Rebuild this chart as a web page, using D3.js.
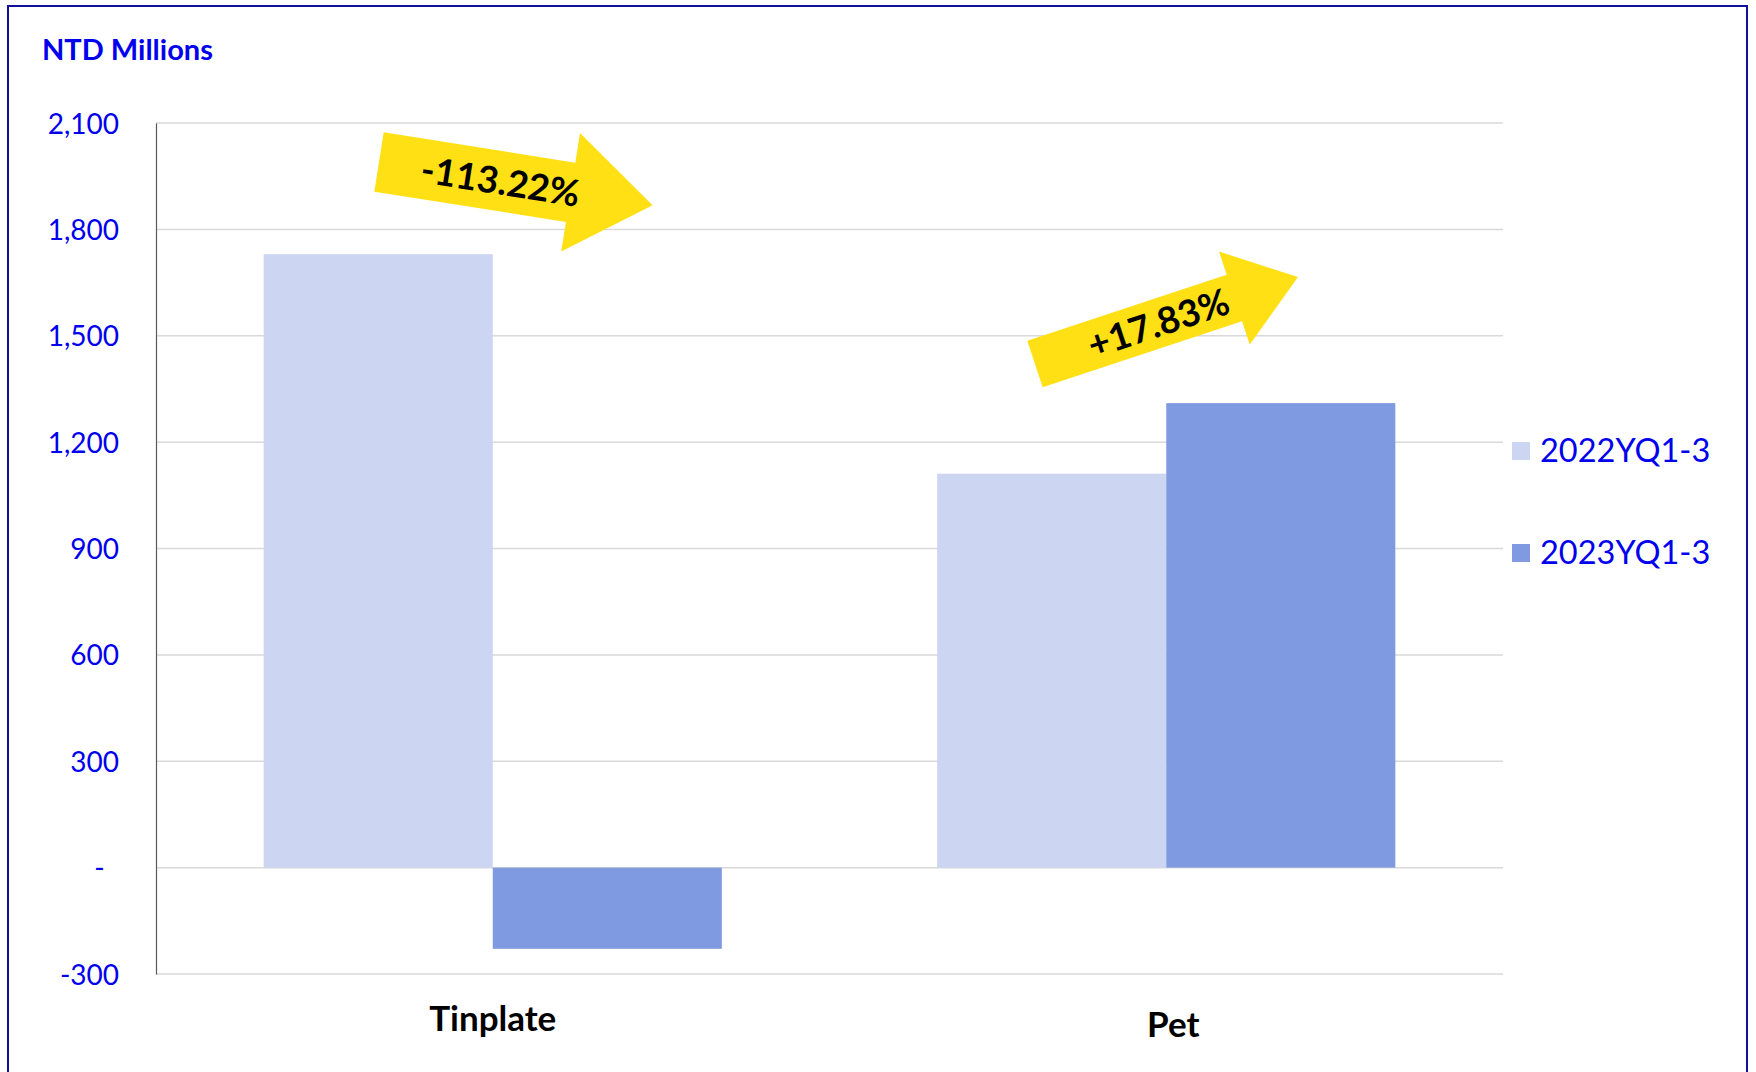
<!DOCTYPE html>
<html>
<head>
<meta charset="utf-8">
<script src="https://cdn.jsdelivr.net/npm/d3@7"></script>
<style>
  body { margin: 0; background: #fff; }
  svg { display: block; font-family: Lato, "Open Sans", sans-serif; }
</style>
</head>
<body>
<div class="canvas"></div>
<script>
/* values */
var categories = ['Tinplate', 'Pet'];
var seriesNames = ['2022YQ1-3', '2023YQ1-3'];
var values2022 = [1730, 1111];
var values2023 = [-229, 1310];
var tickValues = [-300, 0, 300, 600, 900, 1200, 1500, 1800, 2100];
var changeLabels = ['-113.22%', '+17.83%'];

var colors = ['#CCD5F2', '#7F9AE0'];

var W = 1756, H = 1072;
var margin = {t:123, r:253, b:98, l:156};
var width = W - margin.l - margin.r,
    height = H - margin.t - margin.b;

var svg = d3.select('.canvas')
    .append('svg')
    .attr('width', W)
    .attr('height', H);

// outer frame
svg.append('rect')
    .attr('x', 8).attr('y', 6)
    .attr('width', 1739).attr('height', 1090)
    .style('fill', 'none')
    .style('stroke', '#10109a')
    .style('stroke-width', 2);

var canvas = svg.append('g')
    .attr('transform', 'translate(' + margin.l + ',' + margin.t + ')');

var y = d3.scaleLinear().domain([-300, 2100]).range([height, 0]);
var x0 = d3.scaleBand().domain(categories).range([0, width]).padding(0);
var x1 = d3.scaleBand().domain(seriesNames).range([0, x0.bandwidth()])
    .paddingInner(0).paddingOuter(0.47);

var rows = categories.map(function(c, i){
    return {cat:c, vals:[values2022[i], values2023[i]]};
});

// gridlines
canvas.append('g').selectAll('line')
    .data(tickValues)
    .enter()
    .append('line')
    .attr('x1', 0).attr('x2', width)
    .attr('y1', function(d){ return y(d); })
    .attr('y2', function(d){ return y(d); })
    .style('stroke', '#d9d9d9')
    .style('stroke-width', 1.5);

// bars
var group = canvas.append('g').selectAll('.grp')
    .data(rows)
    .enter()
    .append('g')
    .attr('class', 'grp')
    .attr('transform', function(d){ return 'translate(' + x0(d.cat) + ',0)'; });

group.selectAll('rect')
    .data(function(d){ return d.vals.map(function(v, j){ return {s:seriesNames[j], v:v, j:j}; }); })
    .enter()
    .append('rect')
    .attr('x', function(d){ return x1(d.s); })
    .attr('width', x1.bandwidth())
    .attr('y', function(d){ return y(Math.max(0, d.v)); })
    .attr('height', function(d){ return Math.abs(y(d.v) - y(0)); })
    .style('fill', function(d){ return colors[d.j]; });

// y axis
var yAxis = d3.axisLeft(y)
    .tickValues(tickValues)
    .tickSize(0)
    .tickPadding(37)
    .tickFormat(function(d){
        return d === 0 ? '-\u00a0\u00a0' : d3.format(',')(d).replace('\u2212', '-');
    });

var ya = canvas.append('g').call(yAxis);
ya.select('.domain').style('stroke', '#595959').style('stroke-width', 1.2);
ya.selectAll('text')
    .attr('dy', '0.36em')
    .style('font-size', '28px')
    .style('font-family', 'Lato')
    .style('fill', '#0000ee');

// category labels
canvas.append('g').selectAll('text')
    .data(categories)
    .enter()
    .append('text')
    .attr('x', function(d, i){ return x0(d) + x0.bandwidth()/2 + i*7; })
    .attr('y', function(d, i){ return height + 57 + i*6; })
    .attr('text-anchor', 'middle')
    .style('font-size', '35px')
    .style('font-weight', 'bold')
    .style('fill', '#000')
    .text(function(d){ return d; });

// unit title
svg.append('text')
    .attr('x', 42).attr('y', 60)
    .style('font-size', '29px')
    .style('font-weight', 'bold')
    .style('fill', '#0000ee')
    .text('NTD Millions');

// legend
var legend = svg.append('g').selectAll('.lg')
    .data(seriesNames)
    .enter()
    .append('g')
    .attr('transform', function(d, i){ return 'translate(1512,' + (451 + i*102) + ')'; });
legend.append('rect')
    .attr('x', 0).attr('y', -9)
    .attr('width', 18).attr('height', 18)
    .style('fill', function(d, i){ return colors[i]; });
legend.append('text')
    .attr('x', 28).attr('y', 0).attr('dy', '0.35em')
    .style('font-size', '32.5px')
    .style('fill', '#0000ee')
    .text(function(d){ return d; });

// yellow change arrows
var arrows = [
    {cx:379, cy:162, angle:9, w:60, len:194, head:120, tip:83, textAt:123},
    {cx:1035, cy:364, angle:-18.3, w:49, len:210, head:98, tip:67, textAt:130}
];

function arrowPath(a){
    return 'M0,' + (-a.w/2) + 'L' + a.len + ',' + (-a.w/2) + 'L' + a.len + ',' + (-a.head/2) +
        'L' + (a.len + a.tip) + ',0L' + a.len + ',' + (a.head/2) + 'L' + a.len + ',' + (a.w/2) +
        'L0,' + (a.w/2) + 'Z';
}

var arr = svg.append('g').selectAll('.arrow')
    .data(arrows)
    .enter()
    .append('g')
    .attr('class', 'arrow')
    .attr('transform', function(d){ return 'translate(' + d.cx + ',' + d.cy + ') rotate(' + d.angle + ')'; });

arr.append('path')
    .attr('d', arrowPath)
    .style('fill', '#FFE015');

arr.append('text')
    .attr('x', function(d){ return d.textAt; })
    .attr('y', 0)
    .attr('dy', '0.36em')
    .attr('text-anchor', 'middle')
    .style('font-size', '37px')
    .style('font-weight', 'bold')
    .style('fill', '#000')
    .text(function(d, i){ return changeLabels[i]; });
</script>
</body>
</html>
